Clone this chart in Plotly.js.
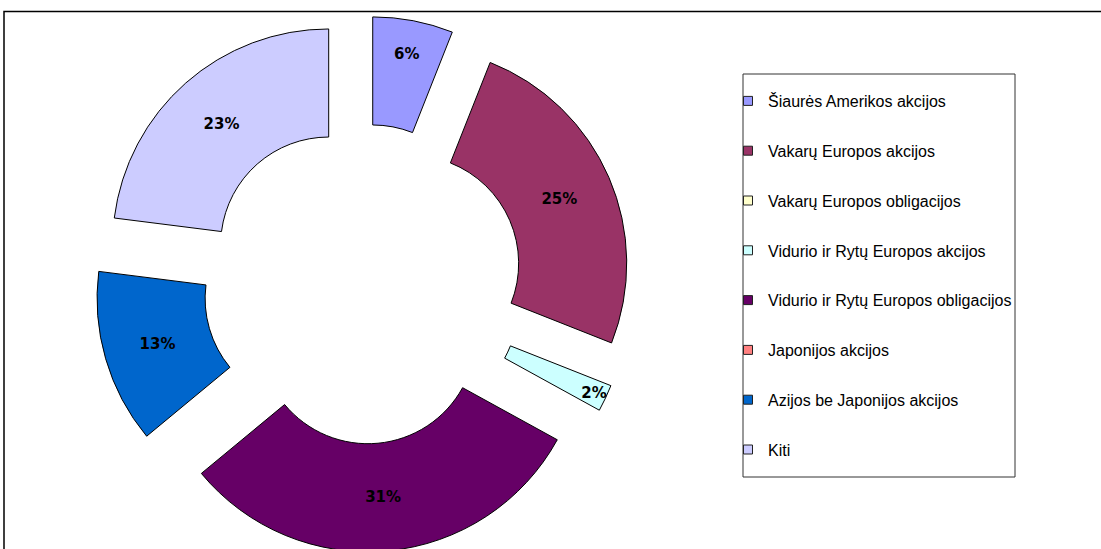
<!DOCTYPE html>
<html>
<head>
<meta charset="utf-8">
<script src="https://cdn.plot.ly/plotly-3.0.1.min.js"></script>
<style>
html,body{margin:0;padding:0;overflow:hidden;background:#fff;}
#chart{width:1101px;height:560px;}
</style>
</head>
<body>
<div id="chart"></div>
<script>
const categories = [
  "Šiaurės Amerikos akcijos",
  "Vakarų Europos akcijos",
  "Vakarų Europos obligacijos",
  "Vidurio ir Rytų Europos akcijos",
  "Vidurio ir Rytų Europos obligacijos",
  "Japonijos akcijos",
  "Azijos be Japonijos akcijos",
  "Kiti"
];
const shares = [6, 25, 0, 2, 31, 0, 13, 23];
const colors = ["#9999FF", "#993366", "#FFFFCC", "#CCFFFF", "#660066", "#FF8080", "#0066CC", "#CCCCFF"];

const W = 1101, H = 560;
const labelsText = shares.map(v => v > 0 ? v + "%" : "");

const pie = {
  type: "pie",
  labels: categories,
  values: shares,
  text: labelsText,
  texttemplate: "%{text}",
  textinfo: "text",
  textposition: "inside",
  insidetextorientation: "horizontal",
  textfont: {family: "DejaVu Sans", size: 15, color: "#000", weight: "bold"},
  marker: {colors: colors, line: {color: "#000", width: shares.map(v => v > 0 ? 1 : 0)}},
  hole: 0.5,
  pull: shares.map(() => 0.24),
  sort: false,
  direction: "clockwise",
  rotation: 0,
  showlegend: false,
  hoverinfo: "none",
  domain: {x: [95 / W, 631 / W], y: [(H - 552) / H, (H - 16) / H]}
};

const legendTraces = categories.map((c, i) => ({
  type: "scatter",
  mode: "markers",
  x: [null], y: [null],
  name: c,
  legendgroup: "g" + i,
  marker: {symbol: "square", size: 9, color: colors[i], line: {color: "#222", width: 1}},
  showlegend: true,
  hoverinfo: "none"
}));

const layout = {
  width: W, height: H,
  margin: {l: 0, r: 0, t: 0, b: 0},
  paper_bgcolor: "#fff",
  plot_bgcolor: "rgba(0,0,0,0)",
  xaxis: {visible: false},
  yaxis: {visible: false},
  uniformtext: {minsize: 15, mode: "show"},
  showlegend: true,
  legend: {
    x: 728 / W, xanchor: "left",
    y: 1 - 84 / H, yanchor: "top",
    bgcolor: "rgba(0,0,0,0)",
    borderwidth: 0,
    font: {family: "Liberation Sans, Arial, sans-serif", size: 16, color: "#000"},
    tracegroupgap: 26,
    itemclick: false, itemdoubleclick: false
  },
  shapes: [
    {type: "rect", xref: "paper", yref: "paper", x0: 4 / W, x1: 1.05, y0: -0.2, y1: 1 - 11.5 / H,
     line: {color: "#000", width: 1.5}, fillcolor: "rgba(0,0,0,0)", layer: "below"},
    {type: "rect", xref: "paper", yref: "paper", x0: 743 / W, x1: 1015 / W, y0: 1 - 477 / H, y1: 1 - 74 / H,
     line: {color: "#333", width: 1}, fillcolor: "rgba(0,0,0,0)", layer: "below"}
  ]
};

Plotly.newPlot("chart", [pie].concat(legendTraces), layout, {displayModeBar: false, staticPlot: true});
</script>
</body>
</html>
